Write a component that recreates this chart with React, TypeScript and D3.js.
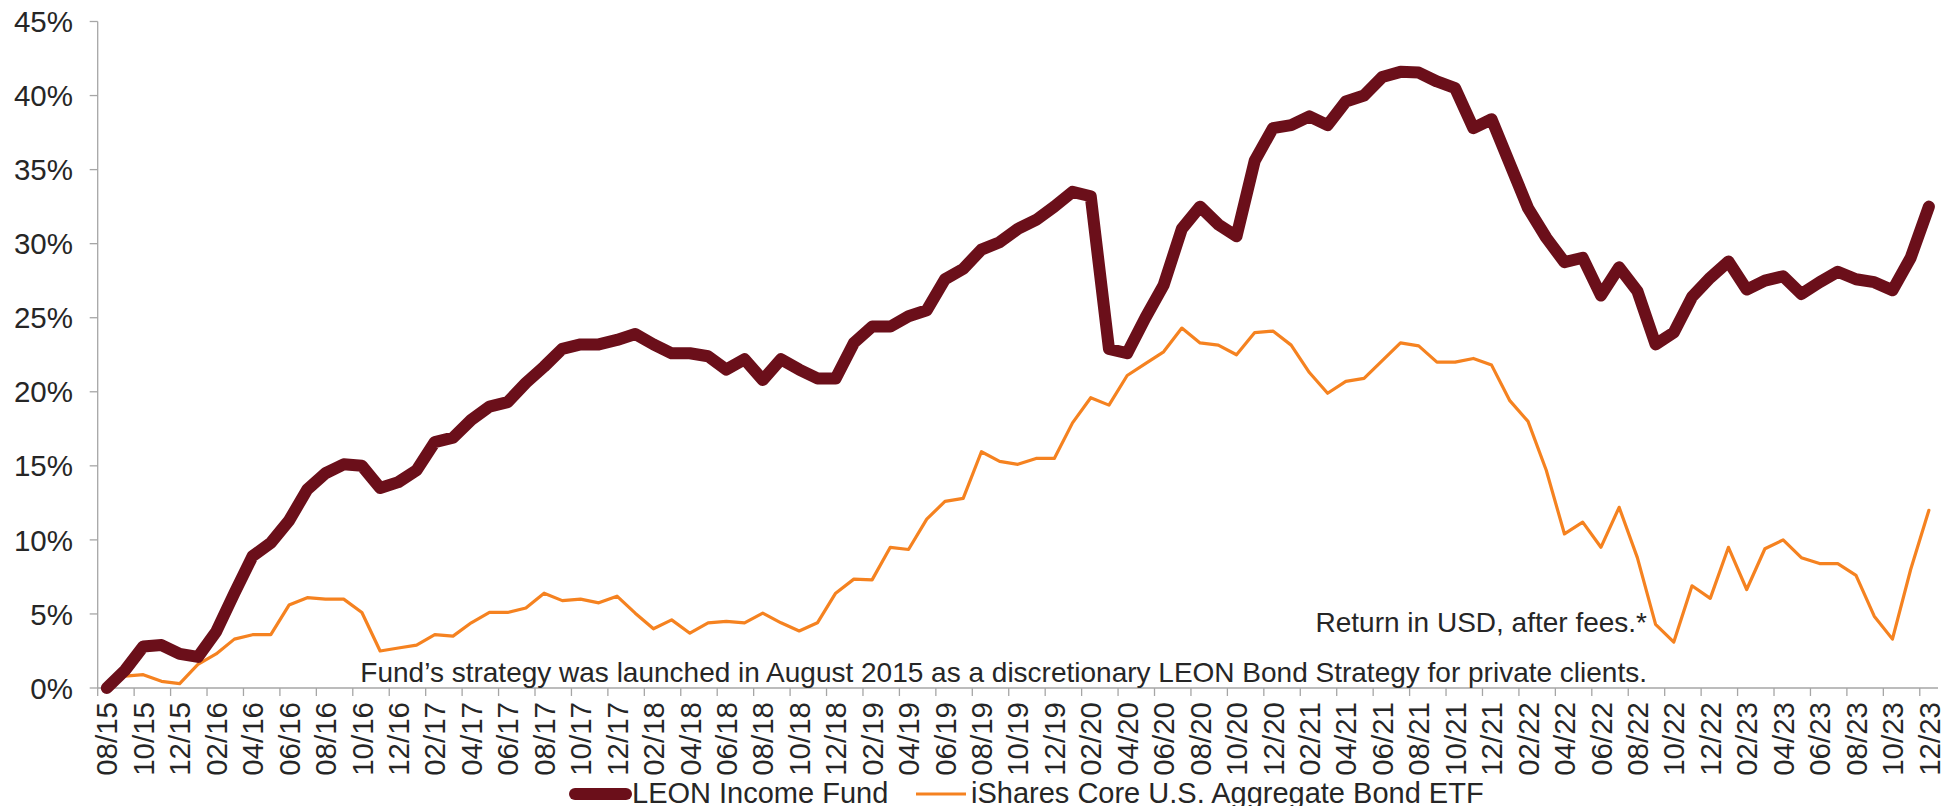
import React from "react";
import * as d3 from "d3";

const months: string[] = [];
for (let y = 15; y <= 23; y++) {
  for (let m = 1; m <= 12; m++) {
    if (y === 15 && m < 8) continue;
    months.push(`${String(m).padStart(2, "0")}/${y}`);
  }
}

const leonIncomeFund = [
  0, 1.2, 2.8, 2.9, 2.3, 2.1, 3.8, 6.4, 8.9, 9.8, 11.3, 13.4, 14.5, 15.1, 15.0, 13.5, 13.9,
  14.7, 16.6, 16.9, 18.1, 19.0, 19.3, 20.6, 21.7, 22.9, 23.2, 23.2, 23.5, 23.9, 23.2, 22.6, 22.6, 22.4,
  21.5, 22.2, 20.8, 22.2, 21.5, 20.9, 20.9, 23.3, 24.4, 24.4, 25.1, 25.5, 27.6, 28.3, 29.6, 30.1, 31.0,
  31.6, 32.5, 33.5, 33.2, 22.9, 22.6, 25.0, 27.2, 31.0, 32.5, 31.3, 30.5, 35.6, 37.8, 38.0, 38.6, 38.0,
  39.6, 40.0, 41.25, 41.6, 41.55, 40.95, 40.5, 37.8, 38.4, 35.4, 32.4, 30.4, 28.75, 29.05, 26.5, 28.4,
  26.8, 23.2, 24.0, 26.4, 27.7, 28.8, 26.9, 27.5, 27.8, 26.6, 27.4, 28.1, 27.6, 27.4, 26.85, 29.05, 32.5,
];

const iSharesAgg = [
  0, 0.8, 0.9, 0.45, 0.3, 1.6, 2.3, 3.3, 3.6, 3.6, 5.6, 6.1, 6.0, 6.0, 5.1, 2.5, 2.7,
  2.9, 3.6, 3.5, 4.4, 5.1, 5.1, 5.4, 6.4, 5.9, 6.0, 5.75, 6.2, 5.05, 4.0, 4.6, 3.7, 4.4,
  4.5, 4.4, 5.05, 4.4, 3.85, 4.4, 6.4, 7.35, 7.3, 9.5, 9.35, 11.4, 12.6, 12.8, 15.95, 15.3, 15.1,
  15.5, 15.5, 17.9, 19.6, 19.1, 21.1, 21.9, 22.7, 24.3, 23.3, 23.15, 22.5, 24.0, 24.1, 23.15, 21.3, 19.9,
  20.7, 20.9, 22.1, 23.3, 23.1, 22.0, 22.0, 22.25, 21.8, 19.4, 18.0, 14.7, 10.4, 11.2, 9.5, 12.2,
  8.8, 4.3, 3.1, 6.9, 6.05, 9.5, 6.65, 9.4, 10.0, 8.8, 8.4, 8.4, 7.6, 4.85, 3.3, 8.0, 12.0,
];

const yTicks = [0, 5, 10, 15, 20, 25, 30, 35, 40, 45];
const seriesNames = ["LEON Income Fund", "iShares Core U.S. Aggregate Bond ETF"];
const noteReturn = "Return in USD, after fees.*";
const noteStrategy =
  "Fund\u2019s strategy was launched in August 2015 as a discretionary LEON Bond Strategy for private clients.";

const W = 1942;
const H = 806;
const FONT = "'Liberation Sans', Arial, sans-serif";
const MAROON = "#6B0F1A";
const ORANGE = "#F58220";
const AXIS = "#A6A6A6";
const TEXT = "#262626";

export default function App() {
  const x = d3
    .scaleBand<number>()
    .domain(months.map((_, i) => i))
    .range([97.7, 1938])
    .padding(0);
  const y = d3.scaleLinear().domain([0, 45]).range([688, 21.5]);
  const cx = (i: number) => (x(i) as number) + x.bandwidth() / 2;

  const line = d3
    .line<number>()
    .x((_, i) => cx(i))
    .y((d) => y(d));

  const x0 = 97.7;
  const x1 = 1938;
  const tickIdx = months.map((_, i) => i).filter((i) => i % 2 === 0);

  return (
    <svg
      width={W}
      height={H}
      style={{ position: "absolute", left: 0, top: 0, background: "#fff" }}
      fontFamily={FONT}
    >
      <rect x={0} y={0} width={W} height={H} fill="#fff" />
      {/* axes */}
      <line x1={x0} x2={x0} y1={y(45)} y2={y(0)} stroke={AXIS} strokeWidth={1.3} />
      {yTicks.map((t) => (
        <g key={t}>
          <line x1={x0 - 8} x2={x0} y1={y(t)} y2={y(t)} stroke={AXIS} strokeWidth={1.3} />
          <text
            x={73}
            y={y(t)}
            dy="0.36em"
            textAnchor="end"
            fontSize={29.5}
            fill={TEXT}
          >
            {`${t}%`}
          </text>
        </g>
      ))}
      <line x1={x0} x2={x1} y1={y(0)} y2={y(0)} stroke={AXIS} strokeWidth={1.3} />
      {tickIdx.map((i) => (
        <line
          key={`t${i}`}
          x1={x(i) as number}
          x2={x(i) as number}
          y1={y(0)}
          y2={y(0) + 8}
          stroke={AXIS}
          strokeWidth={1.3}
        />
      ))}
      {tickIdx.map((i) => (
        <text
          key={`l${i}`}
          transform={`translate(${cx(i)},702) rotate(-90)`}
          textAnchor="end"
          dy="0.36em"
          fontSize={29.5}
          fill={TEXT}
        >
          {months[i]}
        </text>
      ))}

      {/* notes */}
      <text x={1647} y={632} textAnchor="end" fontSize={28} fill={TEXT}>
        {noteReturn}
      </text>
      <text x={1647} y={682} textAnchor="end" fontSize={28} fill={TEXT}>
        {noteStrategy}
      </text>

      {/* series */}
      <path
        d={line(iSharesAgg) || ""}
        fill="none"
        stroke={ORANGE}
        strokeWidth={3.2}
        strokeLinejoin="round"
        strokeLinecap="round"
      />
      <path
        d={line(leonIncomeFund) || ""}
        fill="none"
        stroke={MAROON}
        strokeWidth={12}
        strokeLinejoin="round"
        strokeLinecap="round"
      />

      {/* legend */}
      <line x1={575} x2={626} y1={794} y2={794} stroke={MAROON} strokeWidth={12} strokeLinecap="round" />
      <text x={632} y={803} fontSize={29} fill={TEXT}>
        {seriesNames[0]}
      </text>
      <line x1={916} x2={966} y1={794} y2={794} stroke={ORANGE} strokeWidth={3.2} />
      <text x={971} y={803} fontSize={29} fill={TEXT}>
        {seriesNames[1]}
      </text>
    </svg>
  );
}
